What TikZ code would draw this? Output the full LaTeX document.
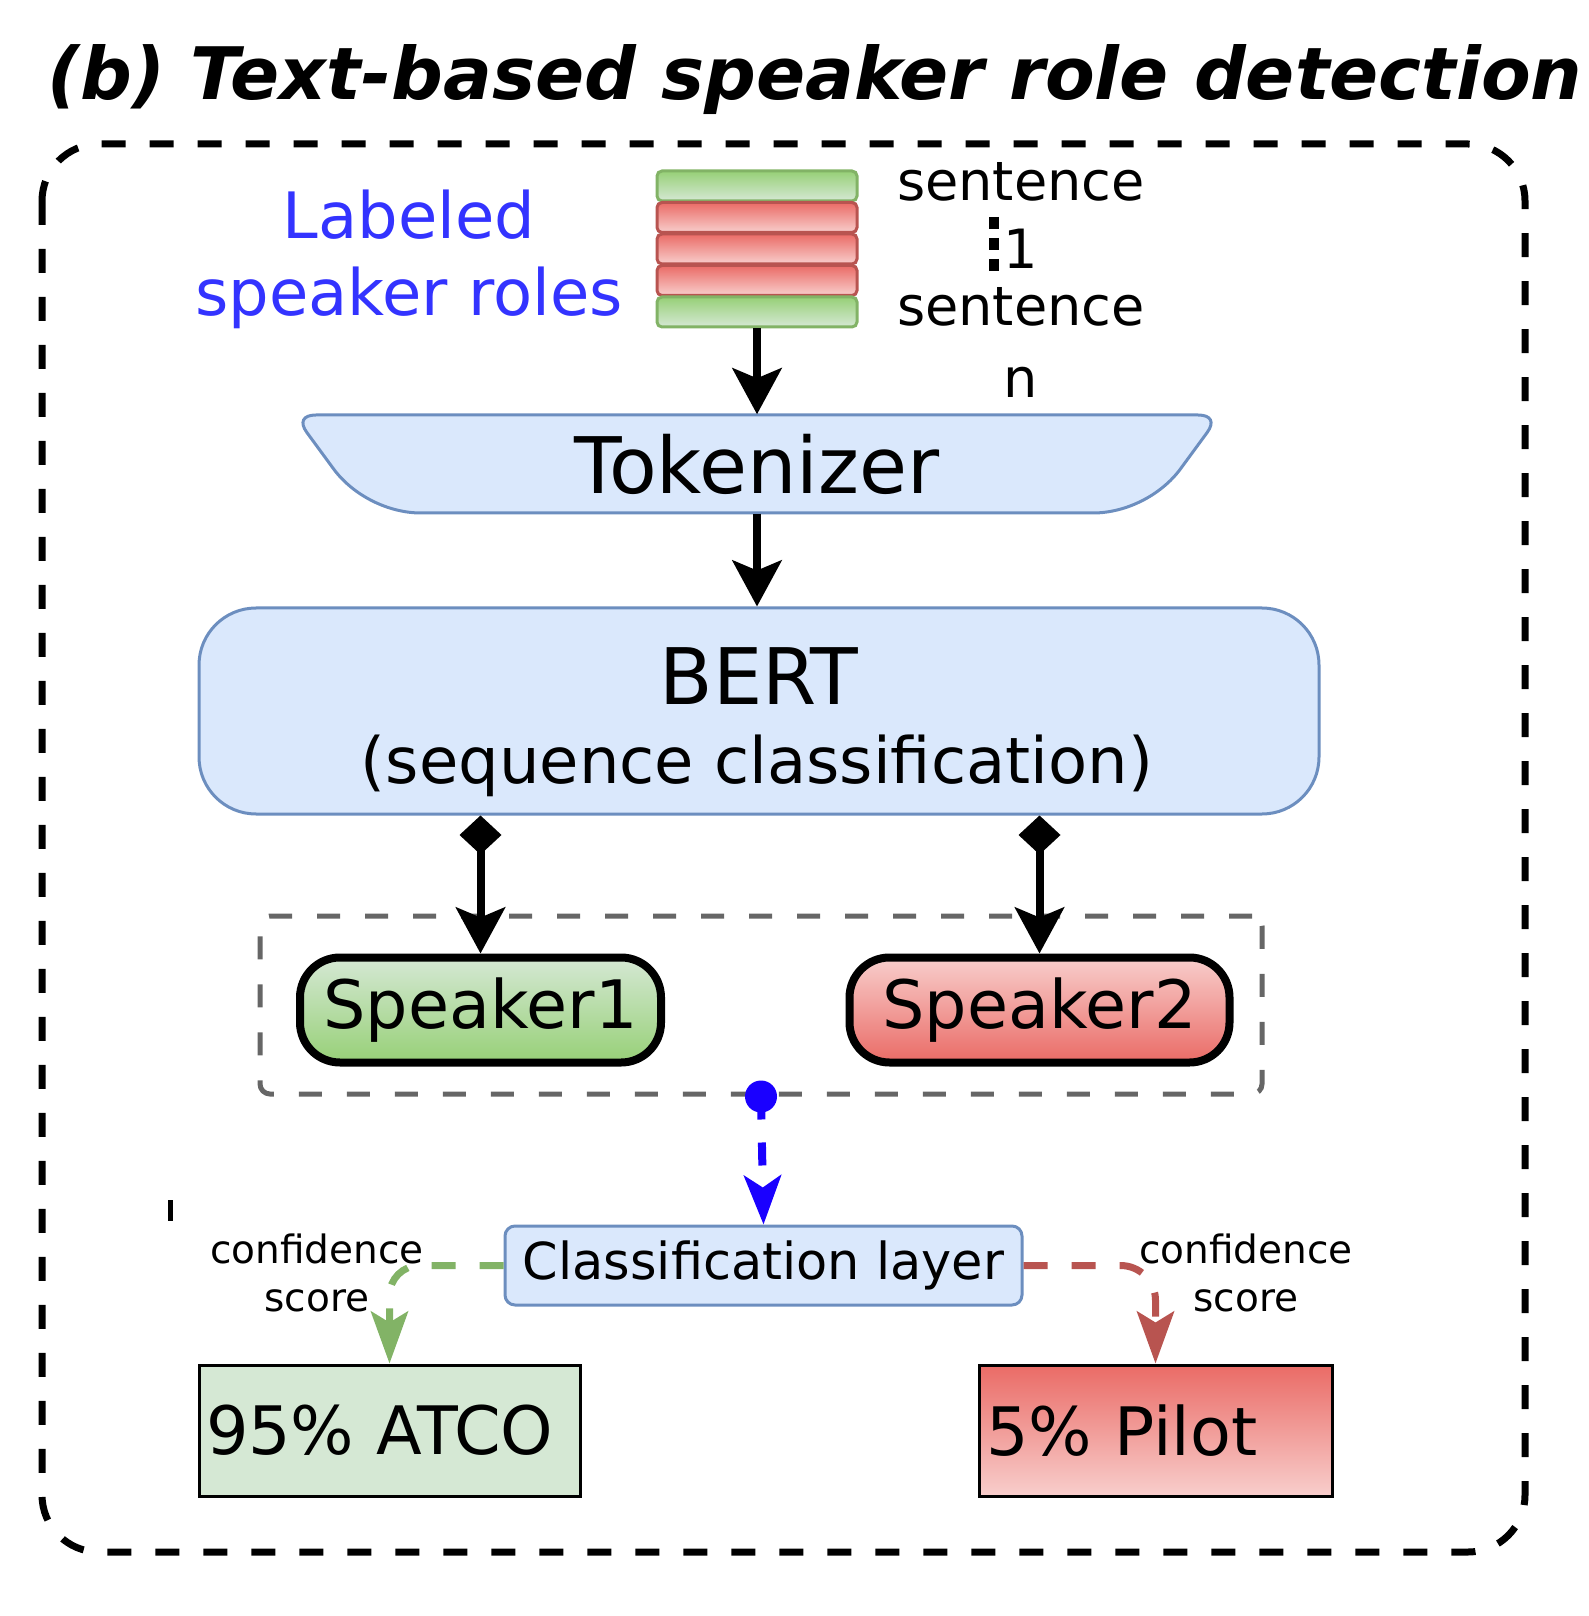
\documentclass[tikz,border=0pt]{standalone}
\usepackage{fontspec}
\setmainfont{DejaVu Sans}
\usetikzlibrary{arrows.meta}
\definecolor{dablue}{HTML}{DAE8FC}
\definecolor{dablueln}{HTML}{6C8EBF}
\definecolor{dagreen}{HTML}{D5E8D4}
\definecolor{dagreenmid}{HTML}{97D077}
\definecolor{dagreenln}{HTML}{82B366}
\definecolor{dared}{HTML}{F8CECC}
\definecolor{daredmid}{HTML}{EA6B66}
\definecolor{daredln}{HTML}{B85450}
\definecolor{dagray}{HTML}{666666}
\definecolor{lblblue}{HTML}{3333FF}
\definecolor{linkblue}{HTML}{1A00FF}
\tikzset{
  bar/.style={draw=#1ln, top color=#1mid, bottom color=#1, line width=0.3mm, rounded corners=0.5mm, minimum width=20mm, minimum height=3mm, inner sep=0},
  bluebox/.style={draw=dablueln, fill=dablue, line width=0.3mm},
  spk/.style={draw=black, line width=0.8mm, rounded corners=4mm, minimum height=10.5mm, font=\fontsize{19pt}{23pt}\selectfont},
  score/.style={draw=black, line width=0.3mm, minimum height=13.1mm, inner xsep=0.7mm, align=left, font=\fontsize{19pt}{23pt}\selectfont},
  blk/.style={line width=0.8mm, -{Stealth[length=4.6mm,width=4.9mm,inset=1mm]}},
  dmd/.style={line width=0.8mm, {Diamond[length=3.9mm,width=4.2mm]}-{Stealth[length=4.6mm,width=4.9mm,inset=1mm]}},
  dlink/.style={line width=0.7mm, dash pattern=on 2.4mm off 2.4mm, -{Stealth[length=5.2mm,width=3.7mm,inset=1.1mm]}},
}
\begin{document}
\begin{tikzpicture}[x=0.1mm, y=-0.1mm]
\useasboundingbox (0,0) rectangle (1588,1616);
\node (title) at (815,100) [anchor=base, font=\fontsize{20.6pt}{24pt}\selectfont\bfseries\itshape] {(b) Text-based speaker role detection};
\draw [line width=0.7mm, dash pattern=on 2.4mm off 2.4mm, rounded corners=5.7mm] (42,144) rectangle (1525,1552);
% input sentences
\foreach \i/\col in {1/dagreen,2/dared,3/dared,4/dared,5/dagreen}
  \node (bar\i) at (757,{186+31.5*(\i-1)}) [bar=\col] {};
\node (lbl) at (409,259) [align=center, text=lblblue, inner sep=0, font=\fontsize{18.2pt}{21.9pt}\selectfont] {Labeled\\speaker roles};
\node (sent1) at (1021,201) [anchor=base, font=\fontsize{15.4pt}{18pt}\selectfont] {sentence};
\node (num1) at (1021,269) [anchor=base, font=\fontsize{15.4pt}{18pt}\selectfont] {1};
\node (sent2) at (1021,326) [anchor=base, font=\fontsize{15.4pt}{18pt}\selectfont] {sentence};
\node (numn) at (1021,398) [anchor=base, font=\fontsize{15.4pt}{18pt}\selectfont] {n};
\draw [line width=1mm, dash pattern=on 1.25mm off 0.85mm] (994,217) -- (994,273);
% model
\draw [bluebox] (757,415) -- (1198,415) .. controls (1211.2,415) and (1214.8,422.1) .. (1207,432.7)
  -- (1180.6,468.7) .. controls (1161.1,495.3) and (1126,513) .. (1093,513)
  -- (421,513) .. controls (388,513) and (352.9,495.3) .. (333.4,468.7)
  -- (307,432.7) .. controls (299.2,422.1) and (302.8,415) .. (316,415) -- cycle;
\node (tok) at (757,464) [minimum width=92.6mm, minimum height=9.8mm, inner sep=0, font=\fontsize{22.2pt}{26pt}\selectfont] {Tokenizer};
\node (bert) at (759,711) [bluebox, rounded corners=5.7mm, minimum width=112mm, minimum height=20.6mm] {};
\node (bertT) at (759,704) [anchor=base, font=\fontsize{22.2pt}{26pt}\selectfont] {BERT};
\node (bertS) at (757,783) [anchor=base, font=\fontsize{18.2pt}{22pt}\selectfont] {(sequence classification)};
% speakers
\node (grp) at (761,1005) [draw=dagray, line width=0.5mm, dash pattern=on 2.3mm off 2.5mm, rounded corners=1mm, minimum width=100.2mm, minimum height=17.8mm] {};
\node (spk1) at (480.5,1010) [spk, minimum width=36.1mm, top color=dagreen, bottom color=dagreenmid] {Speaker1};
\node (spk2) at (1039.5,1010) [spk, minimum width=38mm, top color=dared, bottom color=daredmid] {Speaker2};
% output
\node (cls) at (763.5,1265.5) [bluebox, rounded corners=1mm, minimum width=51.7mm, minimum height=7.9mm, font=\fontsize{14.5pt}{17pt}\selectfont] {Classification layer};
\node (conf1) at (317,1273) [align=center, inner sep=0, font=\fontsize{11.1pt}{13.7pt}\selectfont] {confidence\\score};
\node (conf2) at (1246,1273) [align=center, inner sep=0, font=\fontsize{11.1pt}{13.7pt}\selectfont] {confidence\\score};
\node (atco) at (389.5,1430.5) [score, fill=dagreen, text width=36.7mm] {95\% ATCO};
\node (pilot) at (1155.5,1430.5) [score, top color=daredmid, bottom color=dared, text width=33.9mm] {5\% Pilot};
\draw [line width=0.5mm] (170,1200) -- (170,1221);
% links
\draw [blk] (bar5.south) -- (tok.north);
\draw [blk] (tok.south) -- (tok.south |- bert.north);
\draw [dmd] (bert.south -| spk1.north) -- (spk1.north);
\draw [dmd] (bert.south -| spk2.north) -- (spk2.north);
\fill [linkblue] (grp.south) circle [radius=1.6mm];
\draw [dlink, line width=0.8mm, dash pattern=on 2.3mm off 2.3mm, linkblue, -{Stealth[length=4.9mm,width=3.7mm,inset=1.2mm]}] (grp.south) -- (cls.north);
\draw [dlink, dagreenln, rounded corners=3mm] (cls.west) -| (atco.north);
\draw [dlink, daredln, rounded corners=3.5mm] (cls.east) -| (pilot.north);
\end{tikzpicture}
\end{document}
